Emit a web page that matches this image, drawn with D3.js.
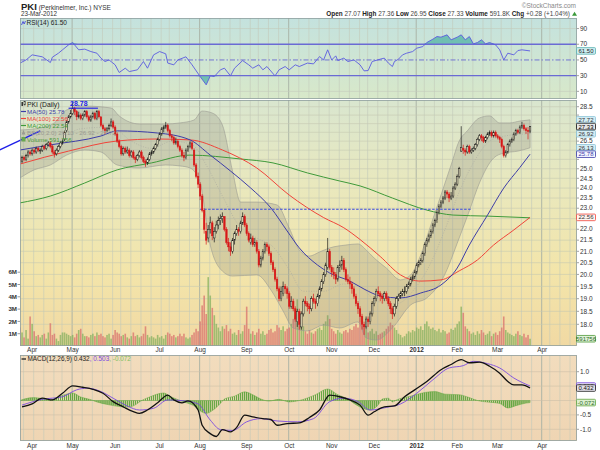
<!DOCTYPE html>
<html>
<head>
<meta charset="utf-8">
<script src="https://cdn.jsdelivr.net/npm/d3@7"></script>
<style>
  body { margin: 0; background: #fff; }
  svg { display: block; font-family: "Liberation Sans", Arial, sans-serif; }
</style>
</head>
<body>
<svg id="chart" width="600" height="450"></svg>
<script>
// ---- data (23-Mar-2011 .. 23-Mar-2012) ----
const holidays = ["2011-04-22","2011-05-30","2011-07-04","2011-09-05","2011-11-24",
                  "2011-12-26","2012-01-02","2012-01-16","2012-02-20","2012-04-06"];

// daily [open, high, low, close]
const ohlc = [
  [25.6,25.7,25.3,25.4],[25.4,25.7,25.3,25.6],[25.6,25.7,25.4,25.5],[25.5,25.8,25.4,25.7],[25.7,26.0,25.6,25.9],[25.9,26.0,25.7,25.8],[25.8,26.1,25.7,26.0],[26.0,26.1,25.8,25.9],[25.9,26.2,25.8,26.1],[26.1,26.2,25.9,26.0],
  [26.0,26.1,25.8,26.0],[26.0,26.3,25.9,26.2],[26.2,26.3,26.0,26.1],[26.1,26.4,26.0,26.3],[26.3,26.5,26.2,26.4],[26.4,26.5,26.1,26.2],[26.2,26.3,25.8,25.9],[25.9,26.0,25.6,25.8],[25.8,26.1,25.7,26.0],[26.0,26.3,25.9,26.2],
  [26.2,26.5,26.1,26.4],[26.4,26.6,26.3,26.5],[26.6,27.1,26.5,27.0],[27.1,27.7,27.0,27.6],[27.6,28.0,27.5,27.9],[27.9,28.3,27.8,28.1],[28.1,28.78,28.0,28.4],[28.4,28.5,28.0,28.2],[28.2,28.3,27.7,27.9],[27.9,28.2,27.8,28.0],
  [28.0,28.1,27.7,27.8],[27.8,28.1,27.7,28.0],[28.0,28.3,27.9,28.2],[28.2,28.3,27.8,27.9],[27.9,28.0,27.6,27.7],[27.7,28.0,27.6,27.9],[27.9,28.2,27.8,28.1],[28.1,28.2,27.7,27.8],[27.8,28.3,27.7,28.2],[28.2,28.3,27.8,27.9],
  [27.9,27.9,27.3,27.4],[27.4,27.5,27.1,27.2],[27.2,27.3,26.9,27.1],[27.1,27.3,27.0,27.2],[27.2,27.5,27.1,27.4],[27.4,27.8,27.3,27.6],[27.6,27.7,27.2,27.3],[27.3,27.4,26.8,26.9],[26.9,27.0,26.4,26.5],[26.5,26.6,26.1,26.2],
  [26.2,26.3,25.7,25.8],[25.8,26.2,25.7,26.1],[26.1,26.2,25.8,25.9],[25.9,26.2,25.8,26.0],[26.0,26.1,25.6,25.7],[25.7,26.0,25.6,25.9],[25.9,26.0,25.5,25.6],[25.6,25.7,25.3,25.5],[25.5,25.8,25.4,25.7],[25.7,26.0,25.6,25.9],
  [25.9,26.0,25.5,25.6],[25.6,25.7,25.3,25.4],[25.4,25.5,25.1,25.3],[25.3,25.6,25.2,25.5],[25.5,25.9,25.4,25.8],[25.8,26.0,25.7,25.9],[25.9,26.2,25.8,26.1],[26.1,26.4,26.0,26.3],[26.3,26.7,26.2,26.6],[26.6,27.0,26.5,26.9],
  [26.9,27.3,26.8,27.2],[27.2,27.4,27.0,27.3],[27.3,27.6,27.2,27.4],[27.4,27.5,27.0,27.1],[27.1,27.2,26.7,26.8],[26.8,26.9,26.5,26.7],[26.7,26.8,26.3,26.4],[26.4,26.7,26.3,26.5],[26.5,26.6,26.1,26.2],[26.2,26.3,25.9,26.0],
  [26.0,26.1,25.6,25.7],[25.7,25.9,25.4,25.6],[25.6,26.1,25.5,26.0],[26.0,26.3,25.9,26.2],[26.2,26.5,26.1,26.4],[26.4,26.5,26.0,26.1],[26.0,26.1,25.1,25.2],[25.2,25.3,24.5,24.6],[24.6,24.8,24.0,24.2],[24.2,24.3,23.4,23.6],
  [23.6,23.7,22.8,22.9],[22.9,23.0,21.8,22.0],[21.9,22.3,21.3,21.5],[21.6,22.2,21.4,22.0],[22.0,22.6,21.8,22.3],[22.3,22.4,21.5,21.7],[21.6,22.1,21.4,21.9],[21.9,22.4,21.8,22.2],[22.2,22.6,22.0,22.4],[22.4,22.7,22.2,22.5],
  [22.5,22.8,22.3,22.6],[22.6,22.6,21.9,22.0],[22.0,22.1,21.3,21.4],[21.4,21.6,21.0,21.2],[21.2,21.4,20.8,21.0],[21.0,21.6,20.9,21.5],[21.5,21.9,21.3,21.8],[21.8,22.2,21.7,22.0],[22.0,22.1,21.7,21.9],[21.9,22.4,21.8,22.3],
  [22.3,22.8,22.2,22.6],[22.6,22.7,22.1,22.2],[22.2,22.3,21.7,21.8],[21.8,21.9,21.4,21.5],[21.4,21.8,21.3,21.6],[21.6,21.7,21.2,21.3],[21.3,21.6,21.2,21.4],[21.4,21.5,20.9,21.0],[21.0,21.1,20.3,20.4],[20.4,20.8,20.3,20.7],
  [20.7,21.1,20.6,21.0],[21.0,21.4,20.9,21.3],[21.3,21.4,21.0,21.2],[21.2,21.3,20.8,20.9],[20.9,21.0,20.4,20.5],[20.5,20.6,20.1,20.2],[20.2,20.3,19.7,19.8],[19.8,19.9,19.3,19.4],[19.4,19.5,18.9,19.0],[19.0,19.5,18.9,19.3],
  [19.2,19.7,19.1,19.5],[19.5,19.6,19.2,19.4],[19.4,19.5,19.0,19.2],[19.2,19.3,18.6,18.7],[18.7,19.1,18.6,18.9],[18.9,19.0,18.5,18.6],[18.6,18.7,18.1,18.2],[18.1,18.6,17.9,18.5],[18.5,18.6,17.8,18.0],[17.9,18.5,17.8,18.4],
  [18.4,19.0,18.3,18.9],[18.9,19.1,18.7,18.8],[18.8,18.9,18.5,18.7],[18.7,18.8,18.4,18.6],[18.6,19.1,18.5,19.0],[19.0,19.2,18.8,18.9],[18.9,19.0,18.6,18.8],[18.8,19.2,18.7,19.1],[19.1,19.5,19.0,19.4],[19.4,19.8,19.3,19.7],
  [19.7,20.1,19.6,20.0],[20.0,20.5,19.9,20.4],[20.3,21.6,20.2,21.0],[21.0,21.1,20.2,20.3],[20.3,20.4,19.9,20.1],[20.1,20.3,19.8,20.0],[20.0,20.1,19.6,19.8],[19.8,20.4,19.7,20.3],[20.3,20.6,20.1,20.4],[20.4,20.8,20.2,20.6],
  [20.6,20.7,20.1,20.2],[20.2,20.3,19.7,19.8],[19.8,20.0,19.6,19.7],[19.7,19.9,19.4,19.6],[19.6,19.7,19.2,19.4],[19.4,19.5,19.0,19.1],[19.1,19.2,18.7,18.8],[18.8,18.9,18.4,18.6],[18.6,18.7,18.1,18.3],[18.3,18.4,17.8,18.0],
  [18.0,18.1,17.6,17.9],[17.9,18.3,17.8,18.2],[18.2,18.3,17.9,18.1],[18.1,18.5,18.0,18.4],[18.4,18.9,18.3,18.8],[18.8,19.1,18.7,19.0],[19.0,19.4,18.9,19.3],[19.3,19.5,19.1,19.2],[19.2,19.3,18.9,19.1],[19.1,19.2,18.8,19.0],
  [19.0,19.3,18.9,19.2],[19.2,19.3,18.9,19.0],[19.0,19.1,18.7,18.8],[18.8,18.9,18.4,18.6],[18.6,18.7,18.2,18.4],[18.4,18.8,18.3,18.7],[18.7,19.1,18.6,19.0],[19.0,19.2,18.9,19.1],[19.1,19.3,19.0,19.2],[19.2,19.4,19.1,19.3],
  [19.3,19.5,19.1,19.3],[19.3,19.6,19.2,19.5],[19.5,19.7,19.4,19.6],[19.6,19.9,19.5,19.8],[19.8,20.0,19.7,19.9],[19.9,20.2,19.8,20.1],[20.1,20.5,20.0,20.4],[20.4,20.6,20.3,20.5],[20.5,20.7,20.4,20.6],[20.6,21.0,20.5,20.9],
  [20.9,21.4,20.8,21.3],[21.3,21.6,21.2,21.5],[21.5,21.8,21.4,21.7],[21.7,22.0,21.6,21.9],[21.9,22.3,21.8,22.2],[22.2,22.5,22.1,22.4],[22.4,22.9,22.3,22.8],[22.8,23.2,22.7,23.1],[23.1,23.4,23.0,23.3],[23.3,23.6,23.2,23.5],
  [23.5,23.9,23.4,23.8],[23.8,23.9,23.5,23.7],[23.7,23.8,23.3,23.5],[23.5,23.8,23.4,23.6],[23.6,24.1,23.5,24.0],[24.0,24.3,23.9,24.2],[24.2,24.7,24.1,24.6],[24.6,25.1,24.5,25.0],[25.95,27.35,25.9,26.15],[26.1,26.3,25.8,26.0],
  [26.0,26.1,25.7,25.9],[25.9,26.3,25.8,26.2],[26.2,26.3,25.8,25.9],[25.9,26.1,25.8,26.0],[26.0,26.2,25.9,26.1],[26.1,26.4,26.0,26.3],[26.3,26.7,26.2,26.6],[26.6,26.9,26.5,26.8],[26.8,26.9,26.5,26.7],[26.7,26.8,26.4,26.5],
  [26.5,26.8,26.4,26.7],[26.7,27.0,26.6,26.9],[26.9,27.1,26.8,27.0],[27.0,27.1,26.7,26.8],[26.8,27.1,26.7,27.0],[27.0,27.1,26.7,26.8],[26.8,26.9,26.6,26.7],[26.7,26.8,26.4,26.6],[26.6,26.7,26.1,26.2],[26.2,26.3,25.6,25.7],
  [25.7,26.0,25.6,25.9],[25.9,26.4,25.8,26.3],[26.3,26.6,26.2,26.5],[26.5,26.7,26.4,26.6],[26.6,27.0,26.5,26.9],[26.9,27.2,26.8,27.1],[27.1,27.2,26.9,27.0],[27.0,27.4,26.9,27.3],[27.3,27.6,27.2,27.4],[27.4,27.5,27.1,27.2],
  [27.2,27.3,26.9,27.1],[27.1,27.3,26.6,27.05],[27.07,27.36,26.95,27.33]
];

// daily volume, millions of shares
const volumes = [
  1.5,1.1,0.7,1.3,0.6,2.4,1.8,1.2,0.8,0.9,  0.7,0.9,1.0,0.6,1.1,1.85,0.9,1.0,0.6,0.4,
  0.9,1.1,1.1,1.0,0.9,0.8,0.9,0.7,1.0,1.3,  1.4,1.0,0.8,0.8,0.7,0.9,1.0,0.8,1.1,0.9,
  1.0,0.8,0.7,0.9,1.0,0.6,0.9,1.3,1.1,1.0,  0.8,0.9,1.0,0.7,0.6,0.8,1.1,0.8,0.9,0.7,
  0.8,1.0,1.6,0.9,0.7,0.8,0.7,0.6,0.9,0.7,  0.8,0.6,0.9,1.1,1.0,0.8,0.9,0.7,0.8,1.0,
  0.8,1.0,0.7,0.6,0.7,0.9,1.1,1.4,1.2,2.0,  3.3,4.1,2.6,5.6,4.1,3.1,2.5,1.8,1.5,1.2,
  1.6,1.4,1.7,1.2,1.4,1.0,1.1,0.9,1.3,1.0,  1.2,1.7,3.2,1.4,1.0,1.2,0.9,1.1,1.4,1.0,
  1.2,0.9,1.0,1.3,1.4,1.1,1.2,1.7,1.5,1.3,  1.6,1.2,1.4,1.5,1.8,2.2,2.5,3.8,2.8,1.9,
  1.6,1.2,1.0,1.3,1.1,1.0,1.2,1.4,1.5,1.3,  1.8,2.0,2.5,2.2,1.4,1.2,1.0,1.3,1.1,1.0,
  1.2,1.3,1.1,1.4,1.3,1.6,1.8,1.5,2.0,1.7,  1.5,1.3,1.1,1.2,1.4,1.0,1.2,0.9,1.0,1.1,
  1.2,1.4,1.6,1.9,1.7,1.5,1.3,1.0,0.9,0.7,  0.8,1.0,1.2,1.1,1.3,1.2,1.5,1.4,1.6,1.3,
  1.8,2.0,1.6,1.4,1.5,1.3,1.2,1.4,1.1,1.3,  1.2,1.0,1.1,1.4,1.3,1.5,1.8,2.0,3.2,2.7,
  1.6,1.4,1.2,1.0,1.1,0.9,1.2,1.0,1.3,1.1,  0.9,1.0,1.2,0.8,1.0,1.1,0.9,1.2,1.5,2.4,
  1.3,1.1,1.0,0.9,0.8,1.0,1.2,0.9,0.8,1.0,  0.7,0.9,0.59
];

// overlays, sampled as [trading-day index, value]
const ma50 = [[0,26.01],[15,26.29],[40,26.79],[48,27.08],[68,26.96],[84,26.57],[94,25.73],[104,24.88],[114,24.00],[124,23.01],[132,21.92],[138,21.15],[147,20.40],[153,20.06],[163,19.72],[170,19.39],[178,19.11],[188,19.03],[198,19.23],[208,19.56],[216,20.27],[222,21.28],[231,22.67],[239,24.00],[247,25.07],[252,25.78]];
const ma100 = [[0,25.25],[24,25.95],[48,26.51],[68,26.62],[84,26.57],[100,26.01],[117,25.04],[133,23.65],[150,22.55],[160,22.07],[168,21.53],[178,20.77],[188,19.98],[198,19.72],[208,19.77],[217,20.15],[226,20.62],[234,21.28],[244,21.97],[252,22.56]];
const ma200 = [[0,23.26],[15,23.60],[32,24.26],[48,24.94],[65,25.31],[84,25.73],[109,25.52],[125,25.31],[142,24.78],[158,24.36],[168,24.11],[184,23.50],[201,22.91],[214,22.67],[231,22.62],[252,22.54]];
const bbUpper = [[0,27.13],[10,27.25],[17,27.54],[23,28.30],[32,28.54],[45,28.42],[49,27.95],[59,27.48],[72,27.48],[79,27.54],[86,27.71],[90,28.24],[95,28.12],[100,27.42],[105,24.88],[109,23.30],[117,23.30],[127,23.16],[133,22.06],[138,21.06],[143,20.79],[148,20.97],[153,21.15],[161,21.28],[167,21.33],[171,21.06],[175,20.70],[181,20.27],[188,19.77],[193,19.98],[198,20.84],[203,22.20],[208,23.65],[213,25.20],[217,26.51],[221,27.08],[227,27.83],[232,27.95],[237,27.54],[242,27.54],[247,27.65],[252,27.72]];
const bbLower = [[0,24.52],[7,24.94],[15,25.20],[23,25.73],[32,26.01],[40,25.90],[48,25.20],[59,25.04],[72,25.20],[79,25.15],[84,25.04],[89,24.26],[94,21.28],[100,20.14],[105,19.93],[117,19.98],[124,19.35],[130,18.51],[135,17.86],[142,17.75],[150,17.97],[158,17.86],[167,18.09],[171,17.49],[176,17.41],[184,17.86],[193,18.75],[201,19.03],[209,19.85],[217,21.60],[222,22.87],[227,24.26],[234,25.57],[239,25.84],[246,25.95],[252,26.13]];
const bbMid = [[0,25.8],[15,26.2],[30,27.2],[45,27.3],[55,26.5],[65,26.1],[75,26.5],[85,26.3],[92,25.2],[100,23.6],[108,22.2],[117,21.6],[125,21.2],[133,20.2],[140,19.3],[150,19.3],[160,19.6],[168,19.5],[176,18.9],[186,18.8],[195,19.4],[203,20.5],[210,22.0],[217,23.8],[225,25.5],[232,26.5],[240,26.8],[252,26.92]];
const trendLine = [[-10,26.01],[10,27.08]];
const supportLine = [[89,22.95],[223,22.95]];
const highMark = { price: "28.78", from: 24, to: 38.5 };

const rsi = [[0,46],[3,50],[6,56.5],[11,54],[15,46.7],[16,53.5],[19,58.6],[21,62.9],[24,69.2],[26,72.2],[29,62.9],[32,63.8],[35,60.7],[38,58.6],[40,52.3],[42,48],[44,50],[47,43.8],[49,34],[52,39.5],[54,35.2],[58,37.4],[61,48],[63,39.5],[66,56.5],[69,60.7],[72,57.8],[73,46],[76,43.8],[78,50],[82,54],[85,43.8],[89,28.9],[92,18.3],[94,29.7],[96,28.9],[99,37.4],[101,39.5],[104,29.7],[106,39.5],[110,49.2],[113,43.8],[115,39.5],[118,43.8],[120,37.4],[122,41.6],[126,29.7],[128,37.4],[131,41.6],[133,37.4],[136,43.8],[138,41.6],[142,46],[145,45],[148,54.3],[150,50],[152,62.9],[154,50],[156,55.2],[157,49.2],[160,52.3],[162,48],[165,50],[168,43.8],[170,36.1],[172,36.5],[174,48],[178,51],[180,52.3],[182,46],[184,41.6],[185,48],[187,51],[189,56.5],[191,58.6],[194,60.7],[196,65],[199,67],[201,72.2],[204,76.5],[206,79.8],[208,79],[211,82],[213,75.6],[216,79],[218,82],[220,75.6],[222,79.8],[224,70.5],[226,72.2],[228,75.6],[230,70.5],[232,72.2],[235,69.2],[237,62.9],[239,50],[241,58.6],[244,56.5],[246,62],[248,62.9],[252,61.5]];

const macd = [[1,-0.22],[6,-0.12],[11,0.08],[16,0.02],[21,0.25],[26,0.51],[31,0.46],[36,0.39],[41,0.25],[46,-0.04],[51,-0.22],[56,-0.39],[59,-0.45],[63,-0.33],[68,-0.08],[73,0.19],[76,0.02],[80,-0.08],[83,-0.01],[88,-0.33],[90,-0.86],[94,-1.15],[97,-1.25],[100,-1.01],[104,-1.09],[107,-0.94],[111,-0.51],[115,-0.57],[120,-0.63],[124,-0.66],[127,-0.86],[132,-0.80],[138,-0.78],[143,-0.59],[148,-0.33],[153,0.19],[158,0.13],[163,0.02],[168,-0.16],[172,-0.51],[175,-0.39],[180,-0.22],[185,-0.19],[190,0.13],[195,0.37],[201,0.66],[208,1.07],[213,1.25],[218,1.42],[222,1.31],[227,1.33],[232,1.19],[237,0.95],[241,0.66],[244,0.54],[248,0.54],[252,0.432]];
const signal = [[1,-0.16],[11,0.04],[21,0.13],[28,0.37],[33,0.43],[40,0.31],[46,0.08],[53,-0.19],[59,-0.33],[66,-0.27],[73,0.02],[81,-0.01],[88,-0.12],[94,-0.68],[99,-1.01],[105,-1.04],[112,-0.74],[119,-0.63],[127,-0.71],[137,-0.74],[145,-0.63],[153,-0.04],[160,0.08],[167,-0.04],[173,-0.33],[181,-0.24],[188,-0.12],[196,0.25],[204,0.72],[212,1.13],[219,1.21],[224,1.36],[231,1.28],[237,1.13],[244,0.78],[252,0.503]];
const histogram = [[0,0],[2,0.05],[7,0.1],[12,0.05],[15,0.02],[18,0.1],[22,0.2],[26,0.26],[30,0.12],[35,0.03],[38,-0.05],[44,-0.15],[53,-0.23],[57,-0.15],[59,-0.05],[64,0.12],[71,0.26],[74,0.15],[78,0.03],[81,-0.05],[85,-0.15],[92,-0.45],[95,-0.35],[99,-0.1],[101,0.05],[106,0.15],[111,0.3],[115,0.2],[119,0.05],[123,-0.02],[128,0.04],[133,-0.05],[138,0],[146,0.2],[152,0.4],[157,0.2],[162,0.05],[165,-0.1],[173,-0.33],[177,-0.15],[179,0.05],[182,0.08],[184,-0.05],[186,0.02],[193,0.15],[200,0.28],[205,0.31],[210,0.22],[217,0.2],[222,0.1],[226,0],[232,-0.06],[237,-0.1],[241,-0.26],[245,-0.18],[250,-0.09],[252,-0.072]];

const priceTicks = [18,18.5,19,19.5,20,20.5,21,21.5,22,22.5,23,23.5,24,24.5,25,25.5,26,26.5,27,27.5,28,28.5];
const volTicks = [1,2,3,4,5,6];
const rsiTicks = [10,30,50,70,90];
const macdTicks = [-1,-0.5,0,0.5,1];
const quote = [["Open","27.07"],["High","27.36"],["Low","26.95"],["Close","27.33"],["Volume","591.8K"],["Chg","+0.28 (+1.04%)"]];

// last values shown in boxes on the right edge
const priceBoxes = [
  { v: 27.72, t: "27.72", s: "#8cc4d8", f: "#d4edf4", c: "#333" },
  { v: 26.92, t: "26.92", s: "#8cc4d8", f: "#d4edf4", c: "#333" },
  { v: 27.33, t: "27.33", s: "#111", f: "#e6e6e6", c: "#000" },
  { v: 26.13, t: "26.13", s: "#8cc4d8", f: "#d4edf4", c: "#333" },
  { v: 25.78, t: "25.78", s: "#3d3da8", f: "#f4f4ff", c: "#3d3da8" },
  { v: 22.56, t: "22.56", s: "#f0443a", f: "#fff4f0", c: "#333" }
];
const macdBoxes = [
  { v: 0.503, t: "0.503", s: "#7a4ae0", f: "#e8e0f8", c: "#333" },
  { v: 0.432, t: "0.432", s: "#222", f: "#e2dfe8", c: "#111" },
  { v: -0.072, t: "-0.072", s: "#62a640", f: "#dcf0d0", c: "#2f6a2a" }
];

// ---- layout ----
const L = 20, R = 577;
const rsiP = { top: 18, bot: 99 }, mainP = { top: 100, bot: 346 }, macdP = { top: 355, bot: 441 };

const svg = d3.select("#chart");
const defs = svg.append("defs");

// trading calendar -> index
const fmt = d3.timeFormat("%Y-%m-%d");
const days = d3.timeDay.range(new Date(2011, 2, 24), new Date(2012, 4, 1))
  .filter(d => d.getDay() > 0 && d.getDay() < 6 && !holidays.includes(fmt(d)));

const x = d3.scaleLinear().domain([0, 275]).range([20, 576.6]);
const step = x(1) - x(0);
const yP = d3.scaleLog().domain([18, 28.5]).range([324.3, 106.7]);
const yV = d3.scaleLinear().domain([0, 6]).range([346, 272.2]);
const yR = d3.scaleLinear().domain([0, 100]).range([99.2, 20.7]);
const yM = d3.scaleLinear().domain([-1, 1]).range([429.3, 371.7]);

const monthStarts = [], weekStarts = [];
days.forEach((d, i) => {
  if (i === 0 || x(i) > R) return;
  if (d.getMonth() !== days[i - 1].getMonth()) monthStarts.push(i);
  if (+d3.timeMonday.floor(d) !== +d3.timeMonday.floor(days[i - 1])) weekStarts.push(i);
});

// gradients
function grad(id, stops) {
  const g = defs.append("linearGradient").attr("id", id).attr("x1", 0).attr("x2", 0).attr("y1", 0).attr("y2", 1);
  stops.forEach(([o, c]) => g.append("stop").attr("offset", o).attr("stop-color", c));
}
grad("gRsi", [[0, "#c4e2de"], [1, "#d8e8c9"]]);
grad("gMain", [[0, "#d9e6cf"], [0.35, "#e9e8bd"], [0.7, "#f3e5aa"], [1, "#f1d9a3"]]);
grad("gMacd", [[0, "#f2dcbd"], [1, "#efd5b3"]]);

function clip(id, p) {
  defs.append("clipPath").attr("id", id).append("rect")
    .attr("x", L).attr("y", p.top).attr("width", R - L).attr("height", p.bot - p.top);
}
clip("cRsi", rsiP); clip("cMain", mainP); clip("cMacd", macdP);

defs.append("pattern").attr("id", "histPat").attr("patternUnits", "userSpaceOnUse")
  .attr("x", x(0) - 0.65).attr("width", step).attr("height", 20)
  .append("rect").attr("width", 1.3).attr("height", 20).attr("fill", "#62a640");

// panel background + vertical grid
function panel(p, fill, clipId) {
  svg.append("rect").attr("x", L).attr("y", p.top).attr("width", R - L).attr("height", p.bot - p.top)
    .attr("fill", `url(#${fill})`);
  const g = svg.append("g").attr("clip-path", `url(#${clipId})`);
  g.selectAll(".wk").data(weekStarts).join("line")
    .attr("x1", d => x(d) - 0.5).attr("x2", d => x(d) - 0.5)
    .attr("y1", p.top).attr("y2", p.bot)
    .attr("stroke", d => monthStarts.includes(d) ? "#a7b0a4" : "#c3c9ba")
    .attr("stroke-width", d => monthStarts.includes(d) ? 0.9 : 0.6);
  return g;
}
function border(p) {
  svg.append("rect").attr("x", L + 0.5).attr("y", p.top + 0.5).attr("width", R - L - 1).attr("height", p.bot - p.top - 1)
    .attr("fill", "none").attr("stroke", "#8fa0a0").attr("stroke-width", 0.8);
}
function valueBox(y, text, stroke, fill, color) {
  svg.append("rect").attr("x", 576.5).attr("y", y - 3.3).attr("width", 19).attr("height", 6.6).attr("rx", 1)
    .attr("fill", fill).attr("stroke", stroke).attr("stroke-width", 0.8);
  svg.append("text").attr("x", 586).attr("y", y + 2.1).attr("text-anchor", "middle")
    .attr("font-size", 6).attr("fill", color).text(text);
}
// tick labels; the ones that sit under a value box are covered in the original, so skipped
function axisLabels(ticks, scale, fmtFn, boxYs) {
  ticks.forEach(t => {
    const yy = scale(t);
    svg.append("line").attr("x1", R).attr("x2", R + 2).attr("y1", yy).attr("y2", yy).attr("stroke", "#666").attr("stroke-width", 0.6);
    if (boxYs.some(b => Math.abs(b - yy) < 6)) return;
    svg.append("text").attr("x", R + 3).attr("y", yy + 2.2).attr("font-size", 6.5).attr("fill", "#333").text(fmtFn(t));
  });
}

// ---- header ----
const title = svg.append("text").attr("x", 21).attr("y", 9.5).attr("fill", "#222");
title.append("tspan").attr("font-size", 9.5).attr("font-weight", "bold").text("PKI");
title.append("tspan").attr("font-size", 6.5).attr("fill", "#333").text(" (Perkinelmer, Inc.) NYSE");
svg.append("text").attr("x", 21).attr("y", 16.3).attr("font-size", 6.3).attr("fill", "#333").text("23-Mar-2012");
svg.append("text").attr("x", 576).attr("y", 8).attr("text-anchor", "end").attr("font-size", 6.5).attr("fill", "#888").text("©StockCharts.com");
const q = svg.append("text").attr("x", 570).attr("y", 16.3).attr("text-anchor", "end").attr("font-size", 6.4).attr("fill", "#222");
quote.forEach(([k, v], i) => {
  q.append("tspan").attr("font-weight", "bold").text((i ? "  " : "") + k + " ");
  q.append("tspan").attr("fill", "#444").text(v);
});
svg.append("path").attr("d", "M572,15.8 L574.5,11.8 L577,15.8 Z").attr("fill", "#3a9a3a");

// ---- RSI panel ----
const gR = panel(rsiP, "gRsi", "cRsi");
[10, 90].forEach(v => gR.append("line").attr("x1", L).attr("x2", R).attr("y1", yR(v)).attr("y2", yR(v)).attr("stroke", "#c3c9ba").attr("stroke-width", 0.6));
gR.append("path").datum(rsi)
  .attr("d", d3.area().x(d => x(d[0])).y0(yR(70)).y1(d => yR(Math.max(70, d[1]))))
  .attr("fill", "#5fb8ac").attr("opacity", 0.85);
gR.append("path").datum(rsi)
  .attr("d", d3.area().x(d => x(d[0])).y0(yR(30)).y1(d => yR(Math.min(30, d[1]))))
  .attr("fill", "#5fb8ac").attr("opacity", 0.85);
[70, 30].forEach(v => gR.append("line").attr("x1", L).attr("x2", R).attr("y1", yR(v)).attr("y2", yR(v)).attr("stroke", "#6a6ad4").attr("stroke-width", 1.3));
gR.append("line").attr("x1", L).attr("x2", R).attr("y1", yR(50)).attr("y2", yR(50))
  .attr("stroke", "#6a6ad4").attr("stroke-width", 0.9).attr("stroke-dasharray", "5,2,1.5,2");
gR.append("path").datum(rsi).attr("d", d3.line().x(d => x(d[0])).y(d => yR(d[1])))
  .attr("fill", "none").attr("stroke", "#5a5ae0").attr("stroke-width", 0.9);
svg.append("path").attr("d", "M21.5,25 L23,21.5 L24.2,24 L25.5,21").attr("fill", "none").attr("stroke", "#4a4ad8").attr("stroke-width", 0.9);
svg.append("text").attr("x", 26.5).attr("y", 25).attr("font-size", 6.5).attr("fill", "#222").text("RSI(14) 61.50");
border(rsiP);
axisLabels(rsiTicks, yR, d => d, [yR(61.5)]);
valueBox(yR(61.5), "61.50", "#5ab0b0", "#cdeef0", "#222");

// ---- main price panel ----
const gM = panel(mainP, "gMain", "cMain");
gM.selectAll(".hg").data(priceTicks).join("line")
  .attr("x1", L).attr("x2", R).attr("y1", d => yP(d)).attr("y2", d => yP(d))
  .attr("stroke", "#c6c9b2").attr("stroke-width", 0.6);

const isDown = i => ohlc[i][3] < (i ? ohlc[i - 1][3] : ohlc[i][0]);

// volume
gM.selectAll(".vol").data(volumes).join("rect")
  .attr("x", (d, i) => x(i) - 0.8).attr("width", 1.6)
  .attr("y", d => yV(d)).attr("height", d => yV(0) - yV(d))
  .attr("fill", (d, i) => isDown(i) ? "#d76a6a" : "#7fae5a").attr("opacity", 0.7);

// Bollinger bands
const curve = d3.curveMonotoneX;
const lineGen = (ys) => d3.line().x(d => x(d[0])).y(d => ys(d[1])).curve(curve);
const upPath = lineGen(yP)(bbUpper);
const loPath = lineGen(yP)(bbLower.slice().reverse());
gM.append("path").attr("d", upPath + "L" + loPath.slice(1) + "Z")
  .attr("fill", "#7c7c74").attr("fill-opacity", 0.24)
  .attr("stroke", "#9a9a92").attr("stroke-width", 0.6);
gM.append("path").attr("d", lineGen(yP)(bbMid)).attr("fill", "none")
  .attr("stroke", "#a8a8a0").attr("stroke-width", 0.6).attr("stroke-dasharray", "1,1.5");

// moving averages
[[ma200, "#3f9a3a"], [ma100, "#f0443a"], [ma50, "#3d3da8"]].forEach(([data, c]) => {
  gM.append("path").attr("d", lineGen(yP)(data)).attr("fill", "none").attr("stroke", c).attr("stroke-width", 1);
});

// support line
gM.append("path").attr("d", d3.line().x(d => x(d[0])).y(d => yP(d[1]))(supportLine))
  .attr("fill", "none").attr("stroke", "#3a4ae0").attr("stroke-width", 1).attr("stroke-dasharray", "2.5,1.5");

// candles
const cg = gM.append("g").selectAll("g").data(ohlc).join("g");
cg.append("line")
  .attr("x1", (d, i) => x(i)).attr("x2", (d, i) => x(i))
  .attr("y1", d => yP(d[1])).attr("y2", d => yP(d[2]))
  .attr("stroke", (d, i) => isDown(i) ? "#d81818" : "#1a1a1a").attr("stroke-width", 0.7);
cg.append("rect")
  .attr("x", (d, i) => x(i) - 0.75).attr("width", 1.5)
  .attr("y", d => yP(Math.max(d[0], d[3])))
  .attr("height", d => Math.max(0.8, yP(Math.min(d[0], d[3])) - yP(Math.max(d[0], d[3]))))
  .attr("fill", (d, i) => d[3] < d[0] ? (isDown(i) ? "#d81818" : "#1a1a1a") : "#ece6c4")
  .attr("stroke", (d, i) => isDown(i) ? "#d81818" : "#1a1a1a").attr("stroke-width", 0.5);

// trend line (runs out past the left edge)
svg.append("path").attr("d", d3.line().x(d => x(d[0])).y(d => yP(d[1]))(trendLine))
  .attr("fill", "none").attr("stroke", "#1f1fe8").attr("stroke-width", 1.4);

// high marker
svg.append("line").attr("x1", x(highMark.from)).attr("x2", x(highMark.to)).attr("y1", 108.2).attr("y2", 108.2)
  .attr("stroke", "#1f1fe8").attr("stroke-width", 1.1);
svg.append("text").attr("x", x(highMark.from) + 1.5).attr("y", 106.3).attr("font-size", 7).attr("font-weight", "bold")
  .attr("fill", "#1f1fe8").text(highMark.price);

// legend
const legend = [
  { t: "PKI (Daily)", c: "#222", icon: "candle" },
  { t: "MA(50) 25.78", c: "#3d3da8", icon: "#3d3da8" },
  { t: "MA(100) 22.56", c: "#f0443a", icon: "#f0443a" },
  { t: "MA(200) 22.54", c: "#3f9a3a", icon: "#3f9a3a" },
  { t: "BB(20,2.0) 26.13 - 26.92 - 27.72", c: "#9a9a92", icon: "bb" },
  { t: "Volume 591,756", c: "#4f9a3a", icon: "vol" }
];
legend.forEach((d, k) => {
  const yy = 106.5 + k * 7;
  if (d.icon === "candle") {
    svg.append("rect").attr("x", 21.5).attr("y", yy - 4.5).attr("width", 1.4).attr("height", 4).attr("fill", "#222");
    svg.append("rect").attr("x", 24).attr("y", yy - 5).attr("width", 1.4).attr("height", 3.5).attr("fill", "none").attr("stroke", "#222").attr("stroke-width", 0.5);
  } else if (d.icon === "bb") {
    svg.append("path").attr("d", `M21.5,${yy} L23.5,${yy - 4.5} L25.5,${yy} Z`).attr("fill", "#9a9a92");
  } else if (d.icon === "vol") {
    svg.append("rect").attr("x", 21.5).attr("y", yy - 4.5).attr("width", 4).attr("height", 4.5).attr("fill", "#6aa84f");
  } else {
    svg.append("line").attr("x1", 21).attr("x2", 26).attr("y1", yy - 2).attr("y2", yy - 2).attr("stroke", d.icon).attr("stroke-width", 1.2);
  }
  svg.append("text").attr("x", 27).attr("y", yy).attr("font-size", k === 0 ? 6.8 : 6.2).attr("fill", d.c).text(d.t);
});
border(mainP);

axisLabels(priceTicks, yP, d => d.toFixed(1), priceBoxes.map(b => yP(b.v)));
priceBoxes.forEach(b => valueBox(yP(b.v), b.t, b.s, b.f, b.c));
valueBox(yV(0.59), "591756", "#4f9a3a", "#e0f2d8", "#2f6a2a");

volTicks.forEach(v => {
  svg.append("line").attr("x1", 17.5).attr("x2", L).attr("y1", yV(v)).attr("y2", yV(v)).attr("stroke", "#555").attr("stroke-width", 0.6);
  svg.append("text").attr("x", 17).attr("y", yV(v) + 2.2).attr("text-anchor", "end").attr("font-size", 6.2)
    .attr("font-weight", "bold").attr("fill", "#333").text(v + "M");
});

// ---- MACD panel ----
const gC = panel(macdP, "gMacd", "cMacd");
gC.selectAll(".hg").data(macdTicks).join("line")
  .attr("x1", L).attr("x2", R).attr("y1", d => yM(d)).attr("y2", d => yM(d))
  .attr("stroke", "#cdbfa8").attr("stroke-width", 0.6);
gC.append("path").datum(histogram)
  .attr("d", d3.area().x(d => x(d[0])).y0(yM(0)).y1(d => yM(d[1])).curve(curve))
  .attr("fill", "url(#histPat)").attr("stroke", "#62a640").attr("stroke-width", 0.5);
gC.append("path").attr("d", lineGen(yM)(signal)).attr("fill", "none").attr("stroke", "#7a4ae0").attr("stroke-width", 0.9);
gC.append("path").attr("d", lineGen(yM)(macd)).attr("fill", "none").attr("stroke", "#111").attr("stroke-width", 1.3);
svg.append("line").attr("x1", 21.5).attr("x2", 26).attr("y1", 359).attr("y2", 359).attr("stroke", "#111").attr("stroke-width", 1.2);
const mt = svg.append("text").attr("x", 27.5).attr("y", 361.3).attr("font-size", 6.4);
mt.append("tspan").attr("fill", "#222").text("MACD(12,26,9) 0.432");
mt.append("tspan").attr("fill", "#7a4ae0").text(", 0.503");
mt.append("tspan").attr("fill", "#7fc060").text(", -0.072");
border(macdP);
axisLabels(macdTicks, yM, d => d3.format(".1f")(d).replace("−", "-"), macdBoxes.map(b => yM(b.v)));
macdBoxes.forEach(b => valueBox(yM(b.v), b.t, b.s, b.f, b.c));

// ---- date labels ----
[352.3, 447.5].forEach(yy => {
  svg.selectAll(null).data(monthStarts).join("text")
    .attr("x", d => x(d)).attr("y", yy).attr("text-anchor", "middle").attr("font-size", 6.5)
    .attr("font-weight", d => days[d].getMonth() === 0 ? "bold" : "normal")
    .attr("fill", "#333")
    .text(d => days[d].getMonth() === 0 ? days[d].getFullYear() : d3.timeFormat("%b")(days[d]));
});
</script>
</body>
</html>
